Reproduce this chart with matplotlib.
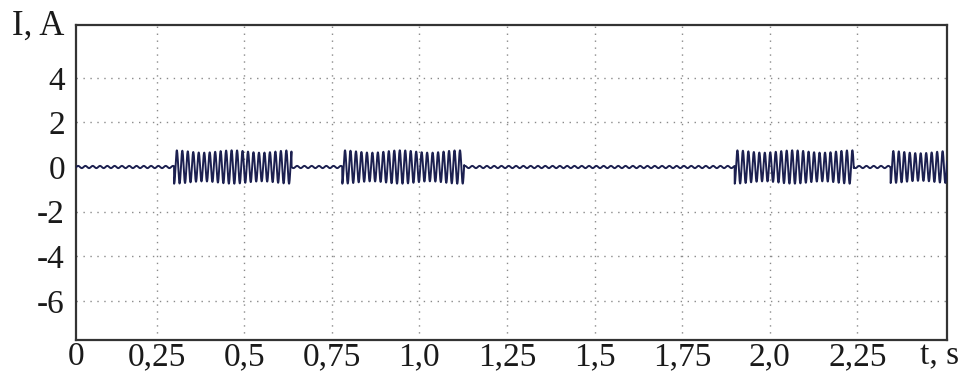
import numpy as np
import matplotlib
matplotlib.use("Agg")
import matplotlib.pyplot as plt

# ---- data ----
# bursts of oscillating current (start [s], end [s], peak amplitude [A])
burst_start = [0.30, 0.78, 1.90, 2.345]
burst_end = [0.635, 1.128, 2.24, 2.51]
burst_amp = [0.75, 0.75, 0.75, 0.72]
burst_freq_hz = 64.0          # oscillation frequency inside bursts
base_ripple_amp = 0.05        # small ripple between bursts
base_ripple_hz = 48.0

x_tick_pos = [0.02, 0.25, 0.5, 0.75, 1.0, 1.25, 1.5, 1.75, 2.0, 2.25]
x_tick_labels = ["0", "0,25", "0,5", "0,75", "1,0", "1,25", "1,5", "1,75", "2,0", "2,25"]
x_grid = [0.25, 0.5, 0.75, 1.0, 1.25, 1.5, 1.75, 2.0, 2.25]
y_ticks = [4, 2, 0, -2, -4, -6]
y_tick_labels = ["4", "2", "0", "-2", "-4", "-6"]
y_grid = [4, 2, -2, -4, -6]

# ---- build signal ----
t = np.linspace(0.02, 2.506, 14000)
i = base_ripple_amp * np.sin(2 * np.pi * base_ripple_hz * t)
for s, e, a in zip(burst_start, burst_end, burst_amp):
    m = (t >= s) & (t <= e)
    i[m] = a * np.sin(2 * np.pi * burst_freq_hz * (t[m] - s) - np.pi / 2) * \
        (0.93 + 0.07 * np.cos(2 * np.pi * 6 * (t[m] - s)))

plt.rcParams['font.family'] = ['Liberation Serif', 'DejaVu Serif']
plt.rcParams['axes.unicode_minus'] = False

fig = plt.figure(figsize=(9.7, 3.88), dpi=100)
ax = fig.add_axes([76 / 970, 1 - 340 / 388, (947 - 76) / 970, (340 - 25) / 388])

for gx in x_grid:
    ax.axvline(gx, color='#8a8a8a', lw=1.0, ls=(0, (1, 4)), zorder=1)
for gy in y_grid:
    ax.axhline(gy, color='#8a8a8a', lw=1.0, ls=(0, (1, 4)), zorder=1)

ax.plot(t, i, color='#1c2050', lw=1.4, zorder=3)

ax.set_xlim(0.02, 2.506)
ax.set_ylim(-7.76, 6.37)
ax.set_xticks(x_tick_pos)
ax.set_xticklabels(x_tick_labels)
ax.set_yticks(y_ticks)
ax.set_yticklabels(y_tick_labels)
ax.tick_params(axis='both', length=0, labelsize=24, colors='#1a1a1a')
ax.tick_params(axis='x', pad=1)
ax.tick_params(axis='y', pad=8)
for sp in ax.spines.values():
    sp.set_color('#333333')
    sp.set_linewidth(1.6)

fig.text(12 / 970, 1 - 10 / 388, "I, A", fontsize=25, va='top', ha='left', color='#1a1a1a')
fig.text(940 / 970, 1 - 341 / 388, "t, s", fontsize=24, va='top', ha='center', color='#1a1a1a')

fig.savefig("out.png", dpi=100)
